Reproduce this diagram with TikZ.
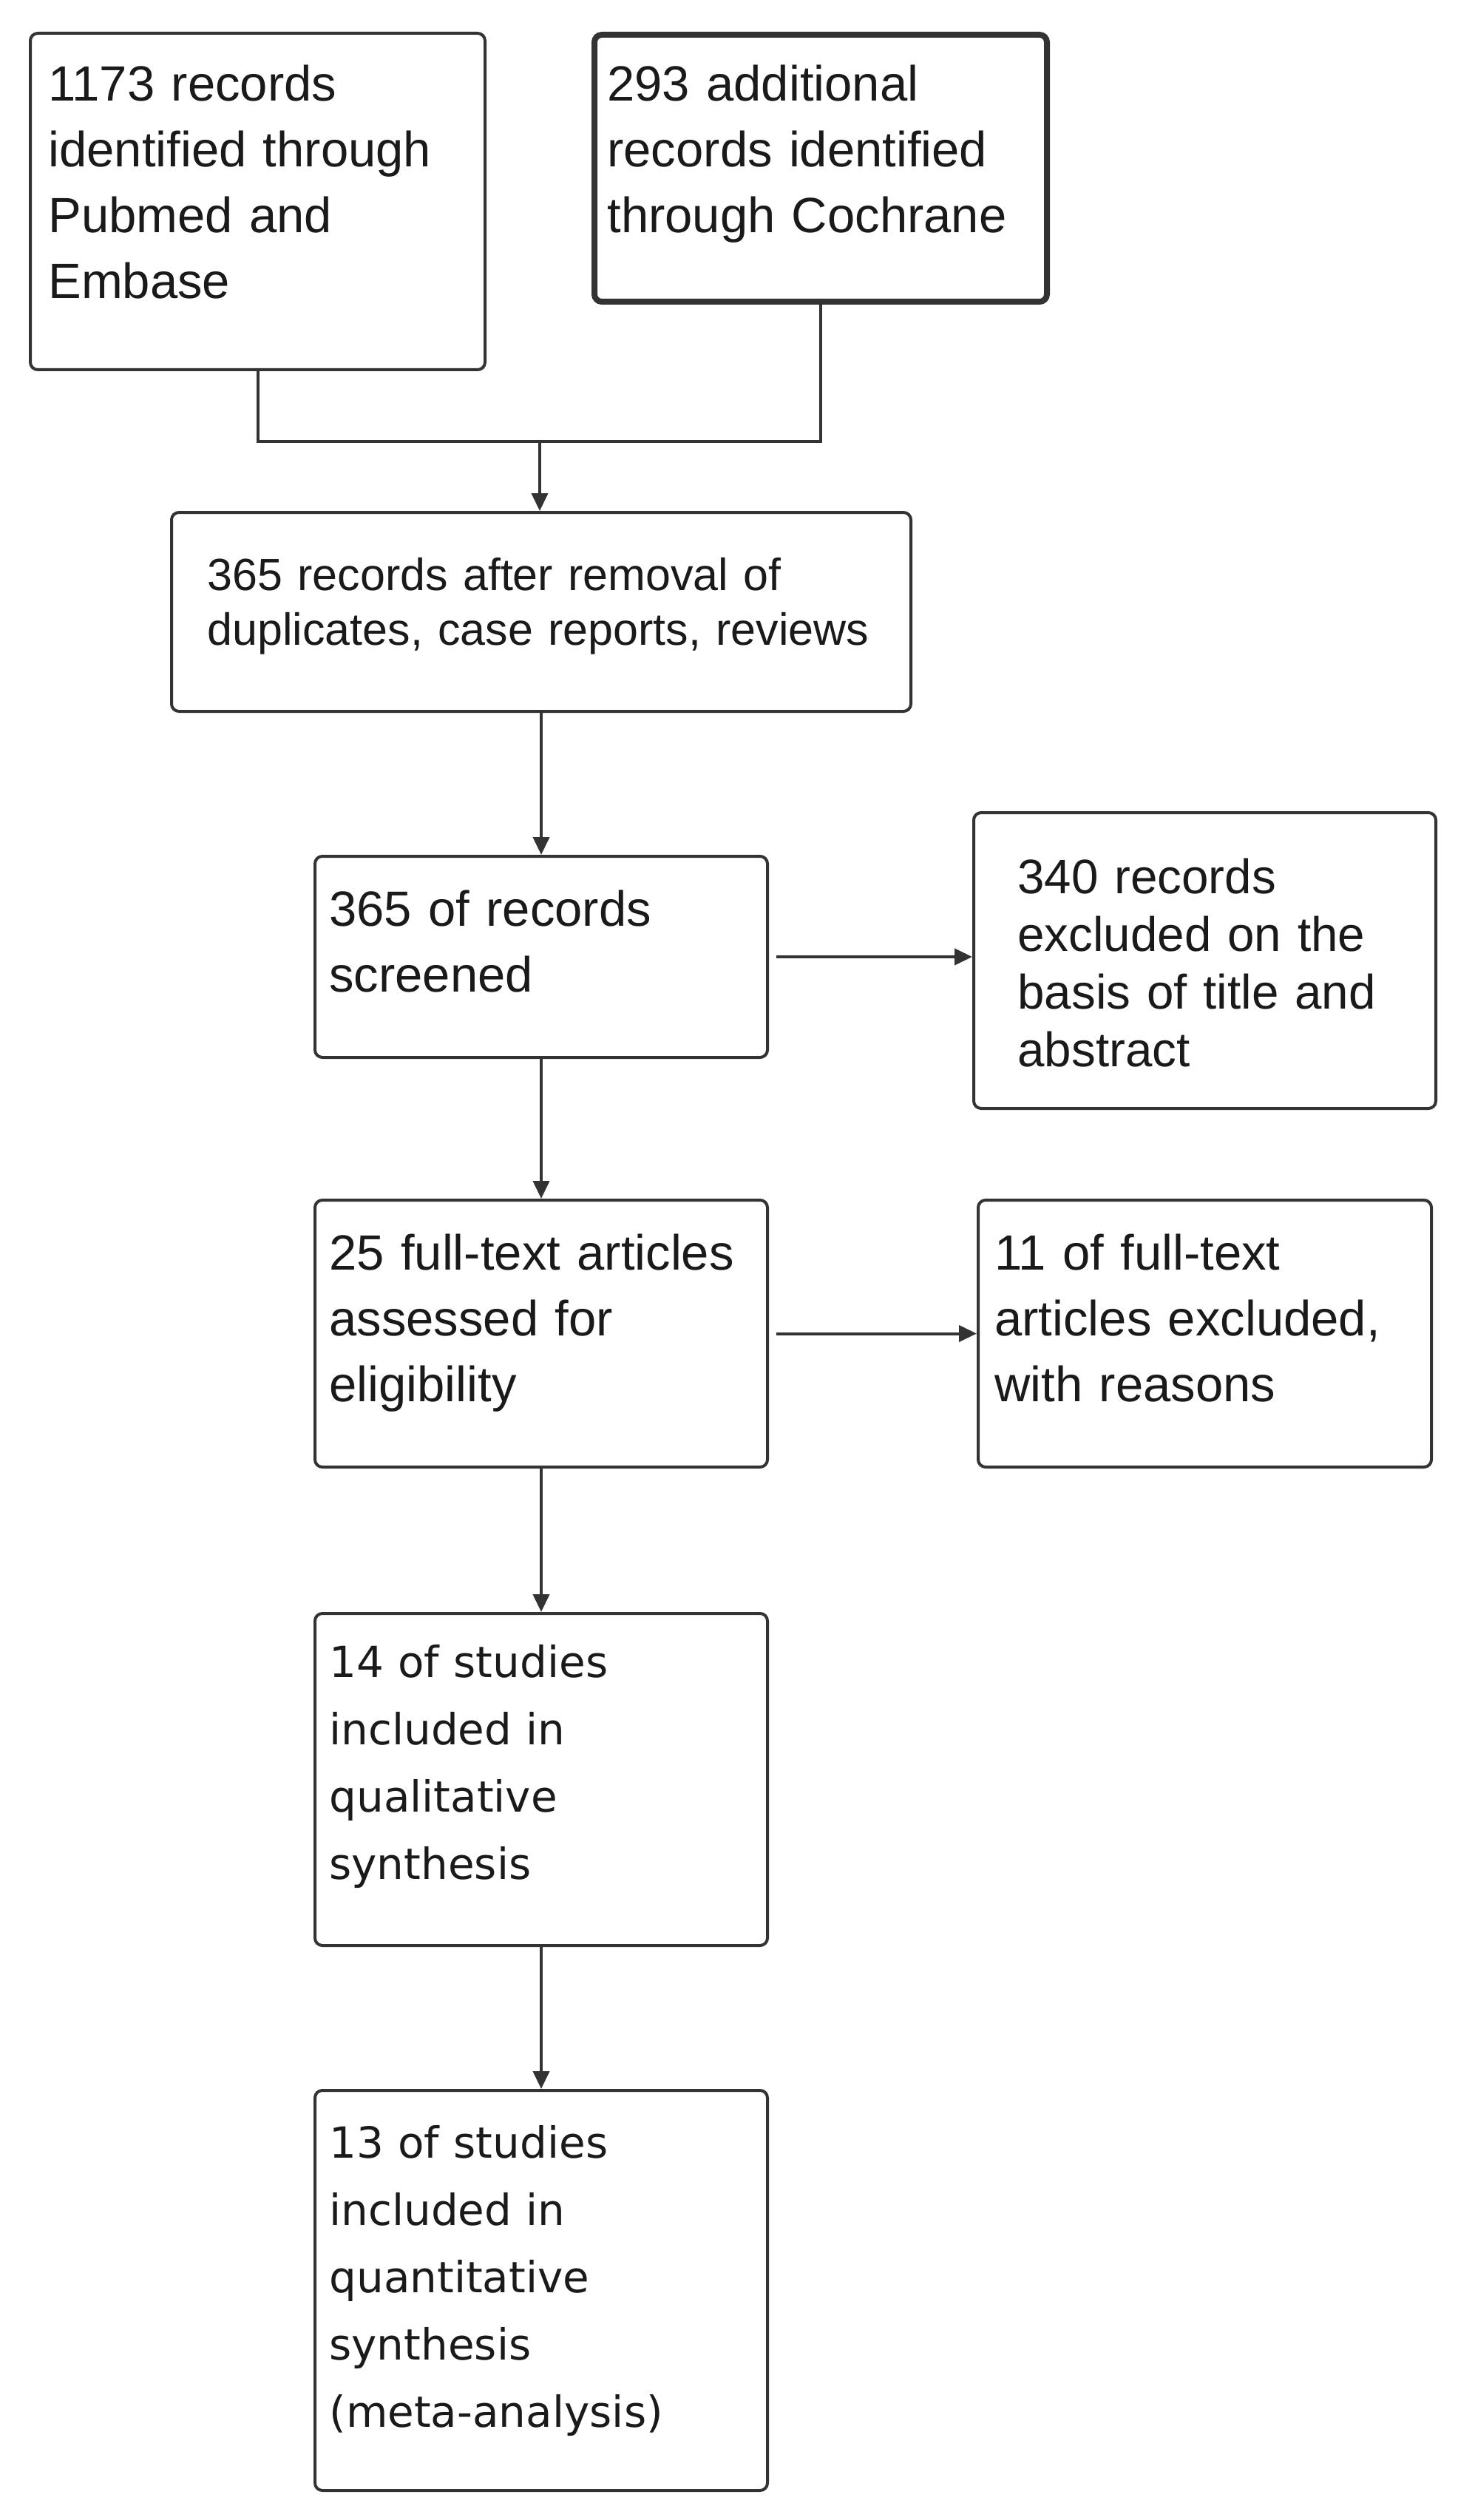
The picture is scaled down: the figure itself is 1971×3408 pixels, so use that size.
\documentclass[tikz,border=0pt]{standalone}
\usepackage{fontspec}
\setmainfont{Liberation Sans}
\newfontfamily\dejavu{DejaVu Sans}
\usetikzlibrary{arrows.meta}
\definecolor{linegray}{HTML}{333333}
\definecolor{txtgray}{HTML}{1A1A1A}
\begin{document}
\begin{tikzpicture}[x=0.5pt,y=-0.5pt,
  box/.style={draw=linegray, line width=2pt, rounded corners=5pt, inner sep=0pt, anchor=north west},
  txt/.style={anchor=base west, inner sep=0pt, align=left, text width=300pt, text=txtgray},
  fa/.style={font=\fontsize{33.5pt}{44.5pt}\selectfont},
  fb/.style={font=\fontsize{30.5pt}{37pt}\selectfont},
  fc/.style={font=\fontsize{32.75pt}{39pt}\selectfont},
  fd/.style={font=\dejavu\fontsize{29pt}{45.5pt}\selectfont},
  conn/.style={draw=linegray, line width=2pt},
  arr/.style={conn, -{Triangle[length=12pt,width=11pt]}}]
\useasboundingbox[fill=white] (0,0) rectangle (1971,3408);
% boxes
\node[box, minimum width=307.5pt, minimum height=227.5pt] (b1) at (39,43) {};
\node[box, line width=4pt, minimum width=306pt, minimum height=180.5pt] (b2) at (800,43) {};
\node[box, minimum width=500pt, minimum height=134.5pt] (b3) at (230,691) {};
\node[box, minimum width=306pt, minimum height=136pt] (b4) at (424,1156) {};
\node[box, minimum width=312.5pt, minimum height=200pt] (b5) at (1315,1097) {};
\node[box, minimum width=306pt, minimum height=180.5pt] (b6) at (424,1621) {};
\node[box, minimum width=306.5pt, minimum height=180.5pt] (b7) at (1321,1621) {};
\node[box, minimum width=306pt, minimum height=224.5pt] (b8) at (424,2180) {};
\node[box, minimum width=306pt, minimum height=270.5pt] (b9) at (424,2825) {};
% texts
\node[txt, fa] (t1) at (65,137) {1173 records\\identified through\\Pubmed and\\Embase};
\node[txt, fa] (t2) at (821,137) {293 additional\\records identified\\through Cochrane};
\node[txt, fb, text width=480pt] (t3) at (280,798) {365 records after removal of\\duplicates, case reports, reviews};
\node[txt, fa] (t4) at (445,1252) {365 of records\\screened};
\node[txt, fc] (t5) at (1376,1208) {340 records\\excluded on the\\basis of title and\\abstract};
\node[txt, fa] (t6) at (445,1717) {25 full-text articles\\assessed for\\eligibility};
\node[txt, fa] (t7) at (1345,1717) {11 of full-text\\articles excluded,\\with reasons};
\node[txt, fd] (t8) at (445,2268) {14 of studies\\included in\\qualitative\\synthesis};
\node[txt, fd] (t9) at (445,2918) {13 of studies\\included in\\quantitative\\synthesis\\(meta-analysis)};
% connectors
\coordinate (m) at (730,597);
\draw[conn] (b1.south) |- (m) -| (b2.south);
\draw[arr] (m) -- (m |- b3.north);
\draw[arr] (b3.south) -- (b4.north);
\draw[arr] ([xshift=5pt]b4.east) -- (b4.east -| b5.west);
\draw[arr] (b4.south) -- (b6.north);
\draw[arr] ([xshift=5pt]b6.east) -- (b6.east -| b7.west);
\draw[arr] (b6.south) -- (b8.north);
\draw[arr] (b8.south) -- (b9.north);
\end{tikzpicture}
\end{document}
